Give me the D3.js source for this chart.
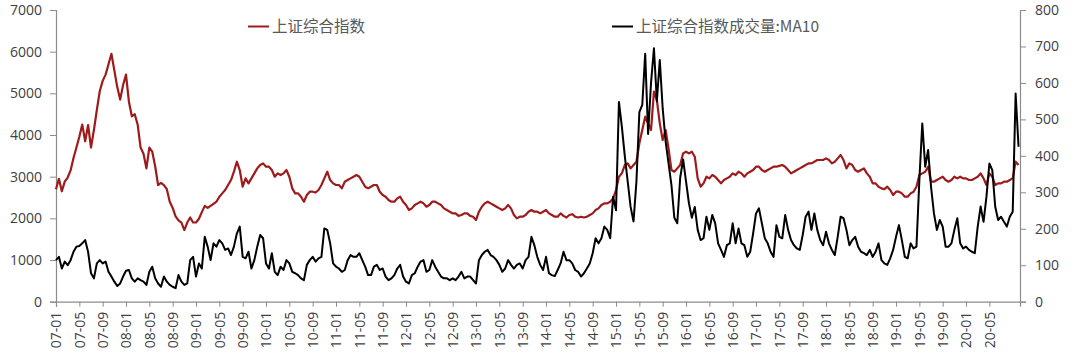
<!DOCTYPE html>
<html>
<head>
<meta charset="utf-8">
<script src="https://cdn.jsdelivr.net/npm/d3@7"></script>
<style>
  html, body { margin: 0; padding: 0; background: #fff; }
  svg { display: block; }
  .tick text { font-family: "Open Sans", "Liberation Sans", sans-serif; fill: #404040; }
</style>
</head>
<body>
<svg id="chart" width="1080" height="356"></svg>
<script>
// ---- data (sampled every half month from 2007-01) ----
const seriesNames = ["上证综合指数", "上证综合指数成交量:MA10"];
const tickLabels = ["07-01","07-05","07-09","08-01","08-05","08-09","09-01","09-05","09-09","10-01","10-05","10-09","11-01","11-05","11-09","12-01","12-05","12-09","13-01","13-05","13-09","14-01","14-05","14-09","15-01","15-05","15-09","16-01","16-05","16-09","17-01","17-05","17-09","18-01","18-05","18-09","19-01","19-05","19-09","20-01","20-05"];
const leftTicks = [0,1000,2000,3000,4000,5000,6000,7000];
const rightTicks = [0,100,200,300,400,500,600,700,800];

const shIndex = [
2700,2950,2650,2880,2980,3150,3450,3700,3960,4250,
3850,4240,3700,4120,4600,5050,5300,5450,5700,5950,
5550,5150,4850,5200,5450,4800,4450,4500,4250,3700,
3550,3200,3700,3600,3250,2800,2850,2800,2700,2400,
2250,2050,1950,1900,1720,1900,2020,1900,1900,1990,
2150,2300,2250,2300,2350,2400,2520,2600,2680,2800,
2920,3120,3360,3160,2760,2960,2840,2960,3080,3200,
3280,3320,3240,3240,3160,3000,3080,3040,3080,3160,
3000,2720,2600,2600,2520,2400,2560,2640,2640,2620,
2680,2800,2960,3120,2920,2840,2800,2800,2720,2880,
2920,2960,3000,3040,3000,2880,2760,2720,2760,2800,
2800,2640,2560,2520,2440,2400,2400,2480,2520,2400,
2320,2200,2240,2320,2360,2400,2360,2280,2320,2400,
2400,2360,2320,2240,2200,2160,2120,2120,2060,2080,
2120,2120,2060,2040,1960,2160,2280,2360,2400,2360,
2320,2280,2240,2200,2240,2320,2240,2080,2000,2040,
2040,2080,2160,2200,2160,2160,2120,2160,2200,2120,
2080,2040,2040,2120,2060,2020,2080,2100,2040,2020,
2040,2020,2040,2080,2120,2200,2240,2320,2360,2360,
2400,2480,2680,3000,3080,3280,3320,3200,3280,3360,
3800,4120,4440,4280,4120,5040,4840,4280,3880,4120,
3680,3160,3120,3200,3280,3560,3600,3560,3600,3480,
2960,2760,2840,3000,2960,3040,3000,2920,2840,2920,
2960,3000,3080,3040,3120,3080,3000,3080,3120,3160,
3240,3240,3160,3120,3160,3200,3240,3240,3260,3280,
3240,3160,3080,3120,3160,3200,3240,3280,3320,3320,
3360,3400,3400,3400,3440,3400,3320,3360,3440,3520,
3400,3200,3320,3280,3160,3120,3160,3200,3080,3000,
2840,2840,2760,2720,2700,2760,2680,2560,2640,2640,
2600,2520,2520,2600,2640,2760,3040,3080,3120,3240,
2880,2880,2920,2960,3000,2920,2880,2920,3000,2960,
3000,2960,2960,2920,2920,2960,3000,3080,2960,2800,
3080,3000,2800,2840,2840,2880,2880,2920,2960,3360,
3280
];

const volMA10 = [
114,123,91,110,100,114,137,151,153,160,
169,137,78,64,105,114,105,110,82,69,
55,43,50,69,85,87,64,55,64,59,
55,46,82,96,64,50,41,69,55,46,
41,37,73,55,46,50,114,123,69,105,
91,178,151,114,160,151,169,160,142,146,
128,151,187,206,123,119,137,91,114,151,
183,174,105,91,133,82,73,96,87,114,
105,82,78,73,64,59,101,114,123,110,
119,123,201,197,160,105,96,91,82,87,
114,128,123,123,133,114,96,73,73,96,
101,87,91,69,59,64,73,91,101,69,
55,50,73,78,96,110,114,82,87,114,
96,82,69,64,64,59,64,59,69,82,
64,69,69,59,50,114,128,137,142,128,
123,114,101,82,91,114,101,91,101,105,
91,114,123,178,155,123,101,87,123,78,
73,70,87,105,137,114,114,105,87,82,
69,78,91,105,133,174,160,174,206,197,
174,288,251,548,480,400,330,260,220,330,
520,540,680,460,600,695,550,663,530,440,
380,320,230,215,340,390,330,270,230,260,
197,169,174,233,197,238,215,160,142,123,
155,160,215,160,201,160,155,123,137,187,
242,256,215,174,160,137,123,210,178,174,
238,197,169,155,146,142,183,233,247,197,
242,197,169,155,192,160,142,128,178,233,
229,197,155,169,178,151,137,133,128,142,
123,137,160,114,105,101,119,142,178,210,
169,123,119,160,146,151,334,489,370,416,
315,242,197,224,206,151,151,160,197,229,
160,146,151,142,137,133,206,261,219,288,
379,361,261,224,233,219,206,233,247,571,
425
];

// ---- layout ----
const svg = d3.select("#chart");
const plotLeft = 56, plotRight = 1020, plotTop = 10, plotBottom = 301.7;
const monthSpan = 165.25; // months from 2007-01 to right edge

const x = d3.scaleLinear().domain([0, monthSpan]).range([plotLeft, plotRight]);
const yL = d3.scaleLinear().domain([0, 7000]).range([plotBottom, plotTop]);
const yR = d3.scaleLinear().domain([0, 800]).range([plotBottom, plotTop]);

const axisColor = "#8c8c8c";

const gL = svg.append("g").attr("transform", `translate(${plotLeft},0)`)
  .call(d3.axisLeft(yL).tickValues(leftTicks).tickSize(6).tickPadding(8).tickFormat(d3.format("d")));
const gR = svg.append("g").attr("transform", `translate(${plotRight},0)`)
  .call(d3.axisRight(yR).tickValues(rightTicks).tickSize(6).tickPadding(9).tickFormat(d3.format("d")));
const gB = svg.append("g").attr("transform", `translate(0,${plotBottom})`)
  .call(d3.axisBottom(x).tickValues(tickLabels.map((_, k) => k * 4)).tickSize(5)
    .tickFormat((d, k) => tickLabels[k]));

[gL, gR, gB].forEach(g => {
  g.select(".domain").attr("stroke", axisColor).attr("stroke-width", 1.2);
  g.selectAll(".tick line").attr("stroke", axisColor).attr("stroke-width", 1);
});
gL.selectAll(".tick text").attr("font-size", 14);
gR.selectAll(".tick text").attr("font-size", 14);
gB.selectAll(".tick text")
  .attr("font-size", 14)
  .attr("transform", "rotate(-90)")
  .attr("text-anchor", "end")
  .attr("x", -10)
  .attr("y", 0)
  .attr("dy", "0.35em");

const redColor = "#9e1b1b";
const lineL = d3.line().x((d, i) => x(i / 2)).y(d => yL(d));
const lineR = d3.line().x((d, i) => x(i / 2)).y(d => yR(d));

svg.append("path").datum(shIndex)
  .attr("d", lineL).attr("fill", "none")
  .attr("stroke", redColor).attr("stroke-width", 2.2).attr("stroke-linejoin", "round");
svg.append("path").datum(volMA10)
  .attr("d", lineR).attr("fill", "none")
  .attr("stroke", "#000").attr("stroke-width", 2).attr("stroke-linejoin", "round");

const legend = [
  { name: seriesNames[0], color: redColor, x: 248 },
  { name: seriesNames[1], color: "#000", x: 612 }
];
const lg = svg.append("g");
legend.forEach(l => {
  lg.append("line").attr("x1", l.x).attr("x2", l.x + 21).attr("y1", 26.5).attr("y2", 26.5)
    .attr("stroke", l.color).attr("stroke-width", 2);
  lg.append("text").attr("x", l.x + 24).attr("y", 26.5).attr("dy", "0.36em")
    .attr("font-family", '"Noto Sans CJK SC", sans-serif').attr("font-size", 15.5)
    .attr("fill", "#595959").text(l.name);
});
</script>
</body>
</html>
